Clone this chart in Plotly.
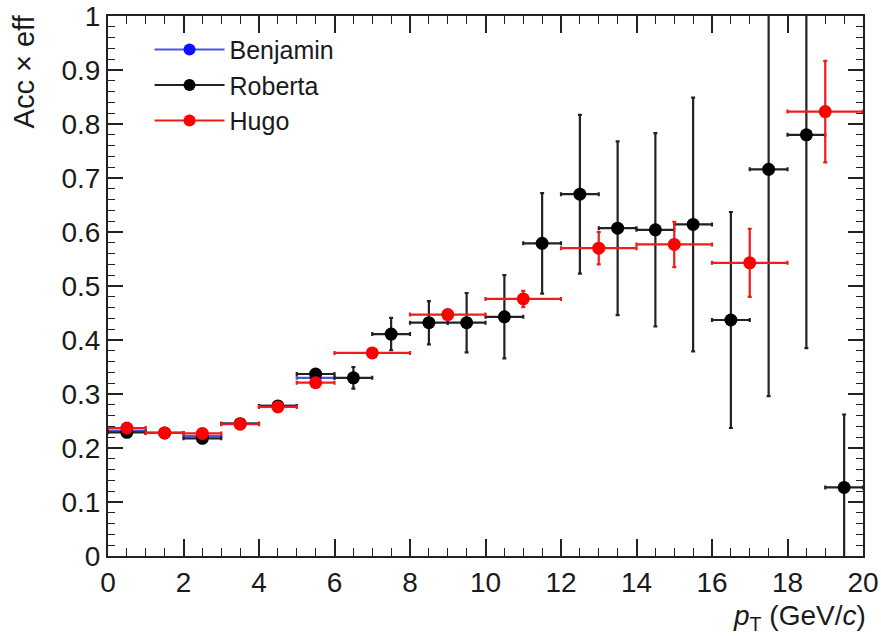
import plotly.graph_objects as go

# ---- data ----
# Roberta: 1 GeV bins, 0-20
rob_x = [0.5, 1.5, 2.5, 3.5, 4.5, 5.5, 6.5, 7.5, 8.5, 9.5,
         10.5, 11.5, 12.5, 13.5, 14.5, 15.5, 16.5, 17.5, 18.5, 19.5]
rob_y = [0.229, 0.228, 0.218, 0.245, 0.278, 0.337, 0.330, 0.411, 0.432, 0.432,
         0.443, 0.579, 0.670, 0.607, 0.604, 0.614, 0.437, 0.716, 0.780, 0.127]
rob_ey = [0.005, 0.005, 0.005, 0.005, 0.005, 0.006, 0.02, 0.03, 0.04, 0.055,
          0.077, 0.093, 0.147, 0.161, 0.179, 0.235, 0.2, 0.42, 0.395, 0.135]
rob_ex = [0.5] * 20

# Benjamin: 1 GeV bins, 0-6 (mostly hidden behind the others)
ben_x = [0.5, 1.5, 2.5, 3.5, 4.5, 5.5]
ben_y = [0.232, 0.228, 0.222, 0.245, 0.278, 0.330]
ben_ey = [0.004, 0.004, 0.004, 0.004, 0.004, 0.005]
ben_ex = [0.5] * 6

# Hugo: variable bins
hugo_x = [0.5, 1.5, 2.5, 3.5, 4.5, 5.5, 7.0, 9.0, 11.0, 13.0, 15.0, 17.0, 19.0]
hugo_ex = [0.5, 0.5, 0.5, 0.5, 0.5, 0.5, 1.0, 1.0, 1.0, 1.0, 1.0, 1.0, 1.0]
hugo_y = [0.237, 0.228, 0.227, 0.244, 0.276, 0.321, 0.376, 0.447, 0.476,
          0.570, 0.577, 0.543, 0.823]
hugo_ey = [0.004, 0.004, 0.004, 0.004, 0.005, 0.005, 0.005, 0.006, 0.015,
           0.03, 0.042, 0.063, 0.094]

FONT = "Liberation Sans, Arial, Helvetica, sans-serif"
TXT = "#1a1a1a"

fig = go.Figure()


def add_series(name, x, y, ex, ey, color, ecolor, size):
    fig.add_trace(go.Scatter(
        x=x, y=y, mode="markers", showlegend=False, name=name,
        marker=dict(color=color, size=size, line=dict(width=0)),
        error_x=dict(type="data", array=ex, visible=True, thickness=2.2,
                     width=2, color=ecolor),
        error_y=dict(type="data", array=ey, visible=True, thickness=2.2,
                     width=2, color=ecolor),
    ))


add_series("Benjamin", ben_x, ben_y, ben_ex, ben_ey, "#1010ff", "#4a55e0", 12)
add_series("Roberta", rob_x, rob_y, rob_ex, rob_ey, "#000000", "#222222", 13)
add_series("Hugo", hugo_x, hugo_y, hugo_ex, hugo_ey, "#ff0000", "#ee1c1c", 13)

# legend entries
for name, col, lc in [("Benjamin", "#1010ff", "#4a55e0"),
                      ("Roberta", "#000000", "#222222"),
                      ("Hugo", "#ff0000", "#ee1c1c")]:
    fig.add_trace(go.Scatter(
        x=[None], y=[None], mode="lines+markers", name=name,
        line=dict(color=lc, width=2),
        marker=dict(color=col, size=12),
    ))

axis_common = dict(
    showline=True, linewidth=2, linecolor="#222222", mirror="ticks",
    ticks="inside", tickwidth=1.5, tickcolor="#222222",
    showgrid=False, zeroline=False, automargin=False,
    tickfont=dict(family=FONT, size=28, color=TXT),
)

fig.update_xaxes(
    range=[0, 20], tickmode="array",
    tickvals=[0, 2, 4, 6, 8, 10, 12, 14, 16, 18, 20],
    ticktext=["0", "2", "4", "6", "8", "10", "12", "14", "16", "18", "20"],
    ticklen=17,
    minor=dict(dtick=0.5, ticklen=8, tickwidth=1.2, tickcolor="#222222",
               ticks="inside"),
    **axis_common,
)
fig.update_yaxes(
    range=[0, 1], tickmode="array",
    tickvals=[0, 0.1, 0.2, 0.3, 0.4, 0.5, 0.6, 0.7, 0.8, 0.9, 1.0],
    ticktext=["0", "0.1", "0.2", "0.3", "0.4", "0.5", "0.6", "0.7", "0.8",
              "0.9", "1"],
    ticklen=15,
    minor=dict(dtick=0.02, ticklen=7, tickwidth=1.2, tickcolor="#222222",
               ticks="inside"),
    **axis_common,
)

fig.update_layout(
    width=881, height=636,
    margin=dict(l=108, r=18, t=16, b=80),
    plot_bgcolor="white", paper_bgcolor="white",
    legend=dict(
        x=0.055, y=0.98, xanchor="left", yanchor="top",
        bgcolor="rgba(0,0,0,0)", borderwidth=0,
        font=dict(family=FONT, size=25, color=TXT),
        itemwidth=70, tracegroupgap=0,
    ),
    annotations=[
        dict(text="Acc × eff", xref="paper", yref="paper",
             x=-0.111, y=1.007, xanchor="center", yanchor="top",
             textangle=-90, showarrow=False,
             font=dict(family=FONT, size=29, color=TXT)),
        dict(text="<i>p</i><sub>T</sub> (GeV/<i>c</i>)", xref="paper",
             yref="paper", x=1.007, y=-0.077, xanchor="right", yanchor="top",
             showarrow=False,
             font=dict(family=FONT, size=28, color=TXT)),
    ],
)

fig.write_html("out.html")
